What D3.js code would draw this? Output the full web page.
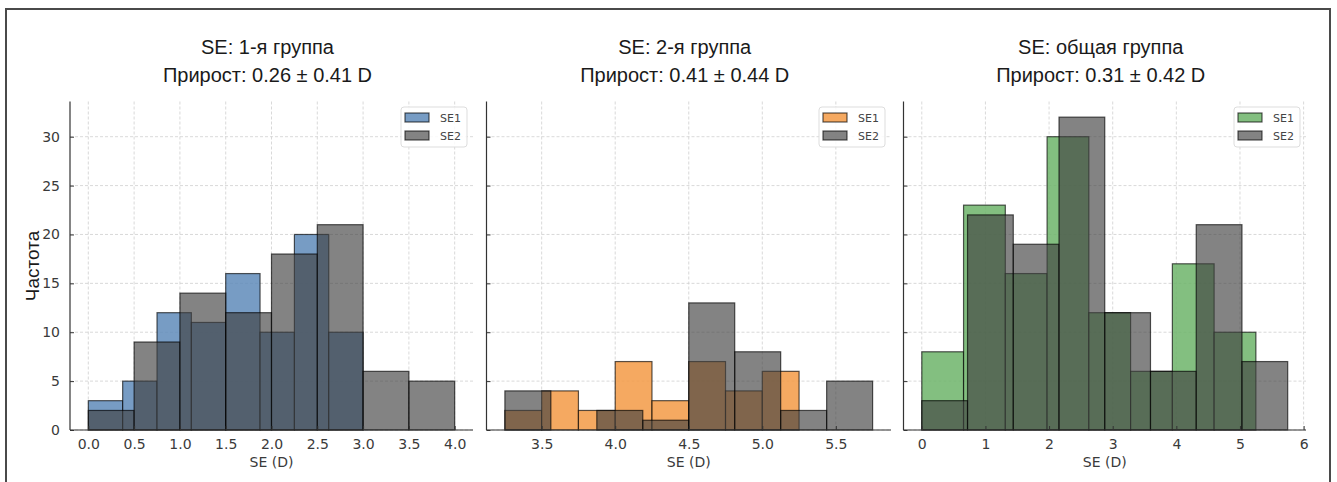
<!DOCTYPE html>
<html><head><meta charset="utf-8">
<script src="https://cdn.jsdelivr.net/npm/d3@7/dist/d3.min.js"></script>
<style>body{margin:0;background:#fff}svg{display:block}</style>
</head><body>
<svg id="c" width="1337" height="482"></svg>
<script>
// ---- data ----
const titles = ["SE: 1-я группа", "SE: 2-я группа", "SE: общая группа"];
const subtitles = ["Прирост: 0.26 ± 0.41 D", "Прирост: 0.41 ± 0.44 D", "Прирост: 0.31 ± 0.42 D"];
const seriesNames = ["SE1", "SE2"];
const se1Colors = ["#5f8bba", "#f39a45", "#6db46a"];
const se2Color = "#404040";

const g1SE1Edges = [0, 0.375, 0.75, 1.125, 1.5, 1.875, 2.25, 2.625, 3.0];
const g1SE1Counts = [3, 5, 12, 11, 16, 10, 20, 10];
const g1SE2Edges = [0, 0.5, 1.0, 1.5, 2.0, 2.5, 3.0, 3.5, 4.0];
const g1SE2Counts = [2, 9, 14, 12, 18, 21, 6, 5];

const g2SE1Edges = [3.25, 3.5, 3.75, 4.0, 4.25, 4.5, 4.75, 5.0, 5.25];
const g2SE1Counts = [2, 4, 2, 7, 3, 7, 4, 6];
const g2SE2Edges = [3.25, 3.5625, 3.875, 4.1875, 4.5, 4.8125, 5.125, 5.4375, 5.75];
const g2SE2Counts = [4, 0, 2, 1, 13, 8, 2, 5];

const g3SE1Edges = [0, 0.65625, 1.3125, 1.96875, 2.625, 3.28125, 3.9375, 4.59375, 5.25];
const g3SE1Counts = [8, 23, 16, 30, 12, 6, 17, 10];
const g3SE2Edges = [0, 0.71875, 1.4375, 2.15625, 2.875, 3.59375, 4.3125, 5.03125, 5.75];
const g3SE2Counts = [3, 22, 19, 32, 12, 6, 21, 7];

const xTicks1 = [0, 0.5, 1.0, 1.5, 2.0, 2.5, 3.0, 3.5, 4.0];
const xTicks2 = [3.5, 4.0, 4.5, 5.0, 5.5];
const xTicks3 = [0, 1, 2, 3, 4, 5, 6];
const yTicks = [0, 5, 10, 15, 20, 25, 30];
const xLabel = "SE (D)";
const yLabel = "Частота";

// ---- layout ----
const svg = d3.select("#c");
const plotTop = 101.5, plotBottom = 430;
const plotX = [[70, 473], [486.5, 891], [903.5, 1306]];
const y = d3.scaleLinear().domain([0, 33.6]).range([plotBottom, plotTop]);

const panels = [
  {s1e: g1SE1Edges, s1c: g1SE1Counts, s2e: g1SE2Edges, s2c: g1SE2Counts, ticks: xTicks1, fmt: d3.format(".1f")},
  {s1e: g2SE1Edges, s1c: g2SE1Counts, s2e: g2SE2Edges, s2c: g2SE2Counts, ticks: xTicks2, fmt: d3.format(".1f")},
  {s1e: g3SE1Edges, s1c: g3SE1Counts, s2e: g3SE2Edges, s2c: g3SE2Counts, ticks: xTicks3, fmt: d3.format("d")}
];

// outer frame
svg.append("path").attr("d", "M6,482V9H1330V482").attr("fill", "none").attr("stroke", "#4a4a4a").attr("stroke-width", 2);

const sansT = "'Liberation Sans', Arial, sans-serif";
const sansD = "'DejaVu Sans', sans-serif";

panels.forEach((p, i) => {
  const lo = Math.min(p.s1e[0], p.s2e[0]);
  const hi = Math.max(p.s1e[p.s1e.length - 1], p.s2e[p.s2e.length - 1]);
  const m = (hi - lo) * 0.05;
  const x = d3.scaleLinear().domain([lo - m, hi + m]).range(plotX[i]);
  const g = svg.append("g");
  const [x0, x1] = plotX[i];

  // grid
  g.append("g").selectAll("line").data(yTicks).join("line")
    .attr("x1", x0).attr("x2", x1).attr("y1", d => y(d)).attr("y2", d => y(d))
    .attr("stroke", "#cfcfcf").attr("stroke-width", 0.8).attr("stroke-dasharray", "3,2");
  g.append("g").selectAll("line").data(p.ticks).join("line")
    .attr("x1", d => x(d)).attr("x2", d => x(d)).attr("y1", plotTop).attr("y2", plotBottom)
    .attr("stroke", "#cfcfcf").attr("stroke-width", 0.8).attr("stroke-dasharray", "3,2");

  const bars = (edges, counts, fill, op) => {
    const data = counts.map((c, k) => ({a: edges[k], b: edges[k + 1], c}));
    g.append("g").selectAll("rect").data(data.filter(d => d.c > 0)).join("rect")
      .attr("x", d => x(d.a)).attr("width", d => x(d.b) - x(d.a))
      .attr("y", d => y(d.c)).attr("height", d => y(0) - y(d.c))
      .attr("fill", fill).attr("fill-opacity", op)
      .attr("stroke", "#000").attr("stroke-opacity", 0.65).attr("stroke-width", 1.2);
  };
  bars(p.s1e, p.s1c, se1Colors[i], 0.85);
  bars(p.s2e, p.s2c, se2Color, 0.65);

  // spines
  g.append("line").attr("x1", x0).attr("x2", x0).attr("y1", plotTop).attr("y2", plotBottom).attr("stroke", "#333").attr("stroke-width", 1.2);
  g.append("line").attr("x1", x0).attr("x2", x1).attr("y1", plotBottom).attr("y2", plotBottom).attr("stroke", "#333").attr("stroke-width", 1.2);

  // x ticks (inward) and labels
  const xa = d3.axisBottom(x).tickValues(p.ticks).tickFormat(p.fmt).tickSizeInner(-4).tickSizeOuter(0).tickPadding(9);
  const xg = g.append("g").attr("transform", `translate(0,${plotBottom})`).call(xa);
  xg.select(".domain").remove();
  xg.selectAll(".tick line").attr("stroke", "#333");
  xg.selectAll("text").attr("font-family", sansD).attr("font-size", 14).attr("fill", "#3a3a3a");

  const ya = d3.axisLeft(y).tickValues(yTicks).tickSizeInner(-4).tickSizeOuter(0).tickPadding(10);
  const yg = g.append("g").attr("transform", `translate(${x0},0)`).call(ya);
  yg.select(".domain").remove();
  yg.selectAll(".tick line").attr("stroke", "#333");
  yg.selectAll("text").attr("font-family", sansD).attr("font-size", 14).attr("fill", "#3a3a3a");
  if (i > 0) yg.selectAll("text").remove();

  // x label
  g.append("text").attr("x", (x0 + x1) / 2).attr("y", 467).attr("text-anchor", "middle")
    .attr("font-family", sansD).attr("font-size", 14).attr("fill", "#3a3a3a").text(xLabel);

  // titles
  g.append("text").attr("x", (x0 + x1) / 2 - 4).attr("y", 54).attr("text-anchor", "middle")
    .attr("font-family", sansT).attr("font-size", 20).attr("fill", "#1a1a1a").text(titles[i]);
  g.append("text").attr("x", (x0 + x1) / 2 - 4).attr("y", 82).attr("text-anchor", "middle")
    .attr("font-family", sansT).attr("font-size", 20).attr("fill", "#1a1a1a").text(subtitles[i]);

  // legend
  const lw = 66, lh = 40, lx = x1 - 6 - lw, ly = 107;
  const lg = g.append("g").attr("transform", `translate(${lx},${ly})`);
  lg.append("rect").attr("width", lw).attr("height", lh).attr("rx", 3)
    .attr("fill", "#fff").attr("fill-opacity", 0.85).attr("stroke", "#ddd").attr("stroke-width", 1);
  const lcol = [[se1Colors[i], 0.85], [se2Color, 0.65]];
  seriesNames.forEach((n, k) => {
    lg.append("rect").attr("x", 4).attr("y", 6 + k * 18).attr("width", 24).attr("height", 9)
      .attr("fill", lcol[k][0]).attr("fill-opacity", lcol[k][1])
      .attr("stroke", "#000").attr("stroke-opacity", 0.65).attr("stroke-width", 1.2);
    lg.append("text").attr("x", 39).attr("y", 15 + k * 18)
      .attr("font-family", sansD).attr("font-size", 11).attr("fill", "#444").text(n);
  });
});

// y label
svg.append("text").attr("transform", "translate(39,266) rotate(-90)").attr("text-anchor", "middle")
  .attr("font-family", sansT).attr("font-size", 19).attr("fill", "#1a1a1a").text(yLabel);
</script>
</body></html>
